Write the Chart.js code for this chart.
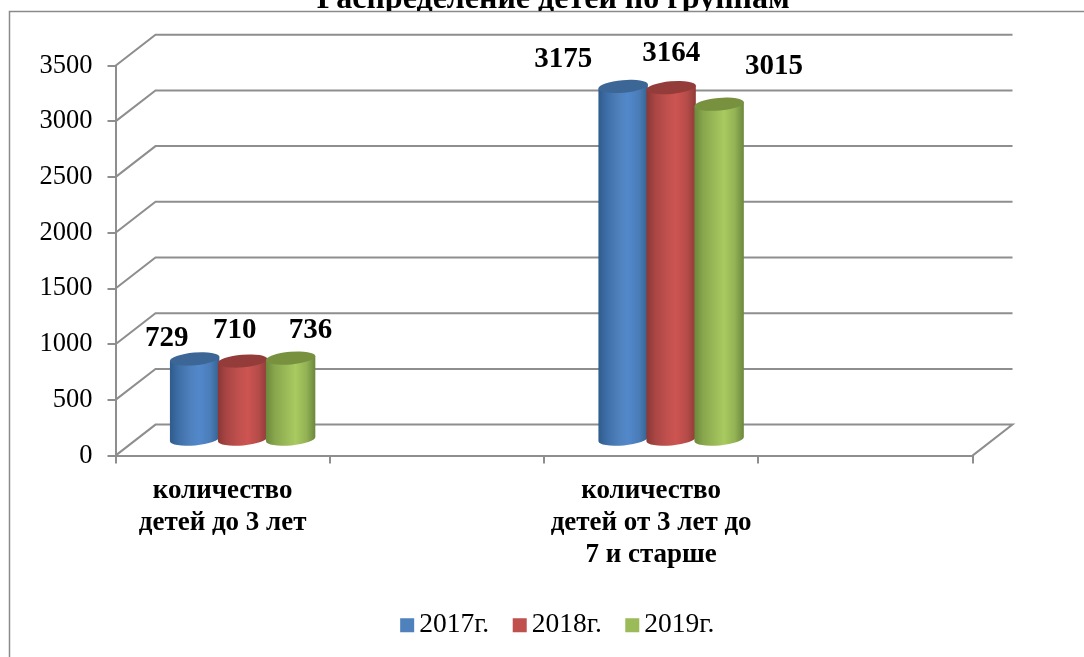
<!DOCTYPE html>
<html><head><meta charset="utf-8">
<style>html,body{margin:0;padding:0;background:#fff}canvas{display:block}</style>
<script src="https://cdn.jsdelivr.net/npm/chart.js@4/dist/chart.umd.min.js"></script>
</head><body><canvas id="c" width="1084" height="657"></canvas>
<script>
const categories = [["количество","детей до 3 лет"], "", ["количество","детей от 3 лет до","7 и старше"], ""];
const seriesNames = ["2017г.","2018г.","2019г."];
const values2017 = [729, null, 3175, null];
const values2018 = [710, null, 3164, null];
const values2019 = [736, null, 3015, null];
const yTickStep = 500, yMax = 3500;
const chartTitle = "Распределение детей по группам";

// styling
const FONT = '"Liberation Serif", "Times New Roman", serif';
const GRID = '#8e8e8e';
const DEPTH = {x: 40, y: 31};
const palette = [
  {base:'#4f81bd', stops:['#2f5b8c','#3f6fa8','#4f81bd','#5288cb','#4a7cb8','#34618f'], top:'#3b6695'},
  {base:'#c0504d', stops:['#8a3735','#a94644','#c0504d','#cd5451','#b54c49','#8f3b39'], top:'#943c3a'},
  {base:'#9bbb59', stops:['#6c883c','#88a64c','#9bbb59','#a8ca5f','#93b255','#6b873b'], top:'#77913f'}
];
const labelShift = [
  [[-8,-36],null,[-40,-42],null],
  [[12,-46],null,[20,-50],null],
  [[40,-43],null,[75,-53],null]
];
const LEGEND_SHIFT = {x: 71, y: -8};
const TITLE_SHIFT = 67;
const TITLE_CLIP_Y = 11;

const cylinders = {
  id:'cylinders',
  beforeDatasetDraw(){ return false; },
  beforeDatasetsDraw(chart){
    const {ctx, scales:{y}, chartArea:a} = chart;
    ctx.save();
    ctx.strokeStyle = GRID; ctx.lineWidth = 2; ctx.lineJoin='miter';
    y.ticks.forEach(t=>{
      const py = y.getPixelForValue(t.value);
      ctx.beginPath();
      ctx.moveTo(a.left, py);
      ctx.lineTo(a.left+DEPTH.x, py-DEPTH.y);
      ctx.lineTo(a.right+DEPTH.x, py-DEPTH.y);
      if (t.value===0) ctx.lineTo(a.right, py);
      ctx.stroke();
    });
    ctx.restore();
    chart.data.datasets.forEach((ds,di)=>{
      const meta = chart.getDatasetMeta(di);
      meta.data.forEach((el,i)=>{
        if (ds.data[i]==null) return;
        const rx = el.width/2 + 0.8, ry = 6.3, rot = -0.085;
        const cx = el.x + DEPTH.x/2, topY = el.y - DEPTH.y/2, botY = el.base - DEPTH.y/2;
        const ex = rx*Math.cos(rot), ey = rx*Math.sin(rot);
        const g = ctx.createLinearGradient(cx-rx,0,cx+rx,0);
        const pos=[0,0.18,0.42,0.6,0.82,1];
        palette[di].stops.forEach((c,k)=>g.addColorStop(pos[k],c));
        ctx.save();
        ctx.fillStyle = g;
        ctx.beginPath();
        ctx.moveTo(cx-ex, topY-ey);
        ctx.lineTo(cx-ex, botY-ey);
        ctx.ellipse(cx, botY, rx, ry, rot, Math.PI, 0, true);
        ctx.lineTo(cx+ex, topY+ey);
        ctx.closePath();
        ctx.fill();
        ctx.fillStyle = palette[di].top;
        ctx.beginPath();
        ctx.ellipse(cx, topY, rx, ry, rot, 0, Math.PI*2);
        ctx.fill();
        ctx.restore();
      });
    });
  },
  afterDatasetsDraw(chart){
    const {ctx} = chart;
    ctx.save();
    ctx.font = 'bold 29px '+FONT;
    ctx.fillStyle = '#000'; ctx.textAlign='center'; ctx.textBaseline='middle';
    chart.data.datasets.forEach((ds,di)=>{
      chart.getDatasetMeta(di).data.forEach((el,i)=>{
        if (ds.data[i]==null) return;
        const s = labelShift[di][i];
        ctx.fillText(String(ds.data[i]), el.x+s[0], el.y+s[1]);
      });
    });
    ctx.restore();
  }
};
const frame = {
  id:'frame',
  beforeDraw(chart){
    const {ctx,width,height} = chart;
    ctx.save();
    ctx.fillStyle='#fff'; ctx.fillRect(0,0,width,height);
    ctx.strokeStyle='#8a8a8a'; ctx.lineWidth=1.5;
    ctx.beginPath();
    ctx.moveTo(width,11.5); ctx.lineTo(9.5,11.5); ctx.lineTo(9.5,height);
    ctx.stroke();
    ctx.restore();
  },
  afterLayout(chart){
    const l = chart.legend;
    l.left += LEGEND_SHIFT.x; l.right += LEGEND_SHIFT.x;
    l.top += LEGEND_SHIFT.y; l.bottom += LEGEND_SHIFT.y;
    const t = chart.titleBlock;
    t.left += TITLE_SHIFT; t.right += TITLE_SHIFT;
    if (!t._clipped) {
      const drawTitle = t.draw;
      t.draw = function(){
        const c = this.ctx;
        c.save(); c.beginPath(); c.rect(0,0,chart.width,TITLE_CLIP_Y); c.clip();
        drawTitle.call(this);
        c.restore();
      };
      t._clipped = true;
    }
  },
  afterDraw(chart){
    const {ctx} = chart;
    chart.legend.legendHitBoxes.forEach((h,i)=>{
      ctx.fillStyle = palette[i].base;
      ctx.fillRect(h.left, h.top+h.height/2-7, 14, 14);
    });
  }
};

new Chart(document.getElementById('c'),{
  type:'bar',
  data:{labels:categories,datasets:[
    {label:seriesNames[0],data:values2017,backgroundColor:palette[0].base,borderWidth:0},
    {label:seriesNames[1],data:values2018,backgroundColor:palette[1].base,borderWidth:0},
    {label:seriesNames[2],data:values2019,backgroundColor:palette[2].base,borderWidth:0}
  ]},
  options:{
    responsive:false, animation:false,
    layout:{padding:{left:0,right:111.5,top:0,bottom:0}},
    categoryPercentage:0.672, barPercentage:1,
    plugins:{
      tooltip:{enabled:false},
      title:{display:true,text:chartTitle,color:'#000',
        font:{family:FONT,size:32,weight:'bold',lineHeight:1.2},
        padding:{top:-19.3,bottom:46.6}},
      legend:{position:'bottom',
        labels:{boxWidth:5.25,boxHeight:14,padding:23.5,color:'#000',font:{family:FONT,size:27.5},
          generateLabels(chart){
            return Chart.defaults.plugins.legend.labels.generateLabels(chart).map(o=>
              Object.assign(o,{fillStyle:'rgba(0,0,0,0)',strokeStyle:'rgba(0,0,0,0)',lineWidth:0}));
          }}}
    },
    scales:{
      x:{
        offset:true,
        grid:{display:true,drawOnChartArea:false,drawTicks:true,tickLength:8,color:GRID,lineWidth:2,offset:true},
        border:{display:true,color:GRID,width:2},
        ticks:{autoSkip:false,maxRotation:0,minRotation:0,color:'#000',padding:11,
          font:{family:FONT,size:27,weight:'bold',lineHeight:1.19}},
        afterFit(s){ s.height = 657-455.6-s.chart.legend.height; }
      },
      y:{
        min:0,max:yMax,
        grid:{display:true,drawOnChartArea:false,drawTicks:true,tickLength:8,color:GRID,lineWidth:2},
        border:{display:true,color:GRID,width:2},
        ticks:{stepSize:yTickStep,color:'#000',padding:15,font:{family:FONT,size:26.5},
          callback(v){ return String(v); }},
        afterFit(s){ s.width = 115.5; }
      }
    }
  },
  plugins:[frame,cylinders]
});
</script></body></html>
